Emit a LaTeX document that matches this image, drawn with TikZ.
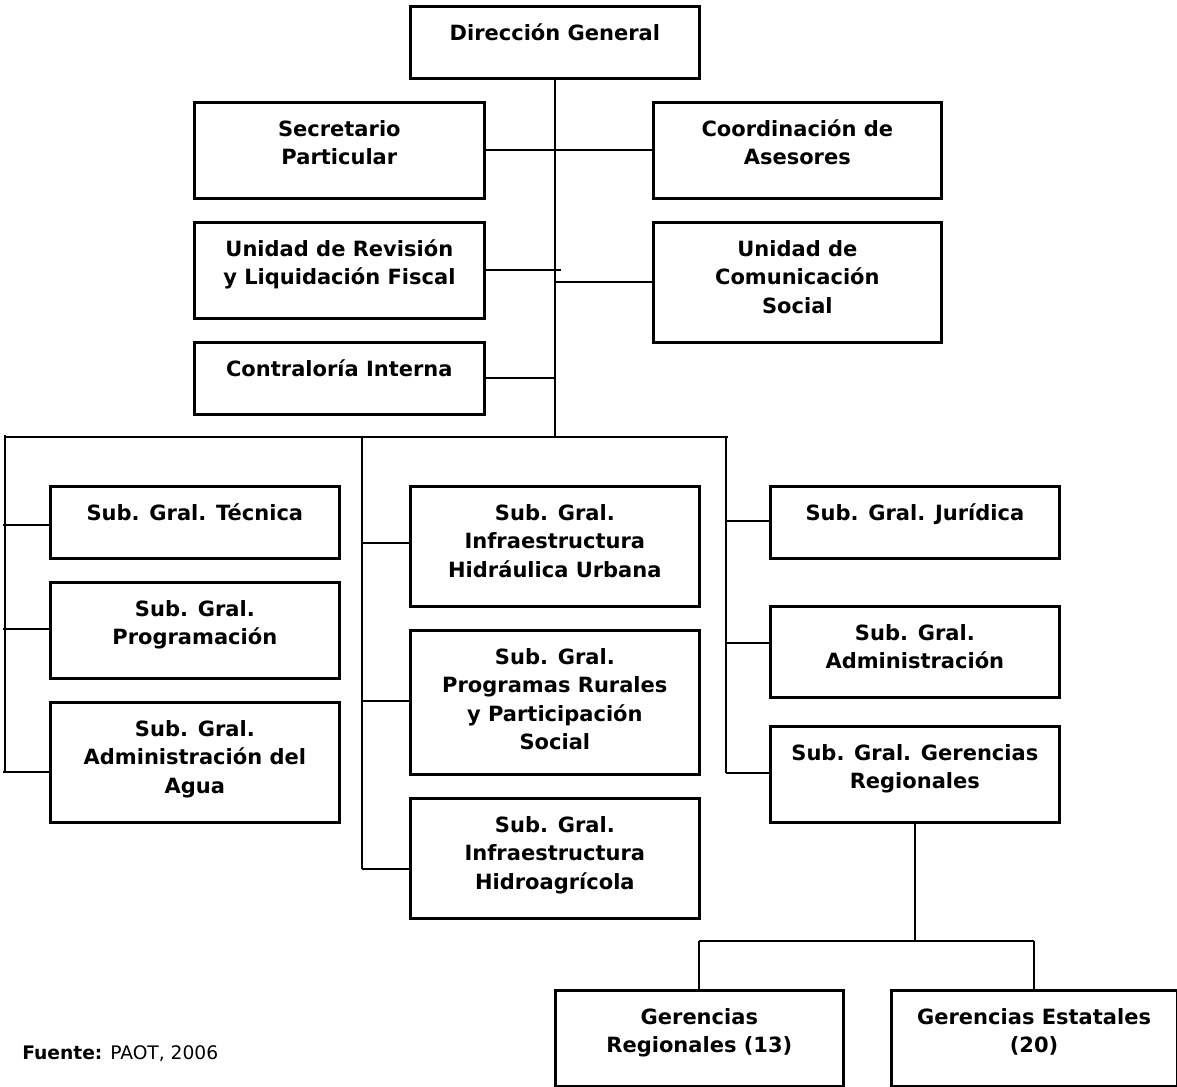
\documentclass[tikz,border=0pt]{standalone}
\usepackage{fontspec}
\setmainfont{DejaVu Sans}
% box drawn from its pixel corners (left, top, right, bottom), text hung from the top edge
\newcommand\orgbox[6]{%
  \node[obox, minimum width={(#4-#2)*0.75pt}, minimum height={(#5-#3)*0.75pt}] (#1) at (#2,#3) {};
  \node[otext] (#1-t) at (#1.north) {\rule{0pt}{26.25pt}#6};}
\begin{document}
\begin{tikzpicture}[x=0.75pt,y=-0.75pt,
  obox/.style={draw, line width=2pt, inner sep=0pt, anchor=north west},
  otext/.style={anchor=north, inner sep=0pt, align=center,
    font=\fontsize{15.75}{21.4}\selectfont\bfseries},
  link/.style={line width=1.5pt}]
\useasboundingbox (0,0) rectangle (1177,1086);

% top level and staff units
\orgbox{dir}{409}{5}{698}{77}{Dirección General}
\orgbox{sec}{193}{101}{483}{197}{Secretario\\Particular}
\orgbox{coo}{652}{101}{940}{197}{Coordinación de\\Asesores}
\orgbox{rev}{193}{221}{483}{317}{Unidad de Revisión\\y Liquidación Fiscal}
\orgbox{com}{652}{221}{940}{341}{Unidad de\\Comunicación\\Social}
\orgbox{con}{193}{341}{483}{413}{Contraloría Interna}

% left column
\orgbox{tec}{49}{485}{338}{557}{Sub. Gral. Técnica}
\orgbox{pro}{49}{581}{338}{677}{Sub. Gral.\\Programación}
\orgbox{agu}{49}{701}{338}{821}{Sub. Gral.\\Administración del\\Agua}

% middle column
\orgbox{urb}{409}{485}{698}{605}{Sub. Gral.\\Infraestructura\\Hidráulica Urbana}
\orgbox{rur}{409}{629}{698}{773}{Sub. Gral.\\Programas Rurales\\y Participación\\Social}
\orgbox{hid}{409}{797}{698}{917}{Sub. Gral.\\Infraestructura\\Hidroagrícola}

% right column
\orgbox{jur}{769}{485}{1058}{557}{Sub. Gral. Jurídica}
\orgbox{adm}{769}{605}{1058}{696}{Sub. Gral.\\Administración}
\orgbox{ger}{769}{725}{1058}{821}{Sub. Gral. Gerencias\\Regionales}

% regional level
\orgbox{gre}{554}{989}{842}{1084.5}{Gerencias\\Regionales (13)}
\orgbox{ges}{890}{989}{1175.5}{1084.5}{Gerencias Estatales\\(20)}

% bus coordinates
\coordinate (busL) at (5,437);
\coordinate (busR) at (728,437);
\coordinate (lv) at (5,772);
\coordinate (l1) at (3,525);
\coordinate (l2) at (3,629);
\coordinate (l3) at (3,772);
\coordinate (mtop) at (362,437);
\coordinate (m1) at (362,543);
\coordinate (m2) at (362,701);
\coordinate (m3) at (362,869);
\coordinate (rtop) at (726,437);
\coordinate (r1) at (726,521);
\coordinate (r2) at (726,643);
\coordinate (r3) at (726,773);
\coordinate (gy) at (0,941);

% main trunk and staff links
\draw[link] (dir.south) -- (dir.south |- busL);
\draw[link] (sec.east) -- (coo.west);
\draw[link] (rev.east) -- ++(75,0);
\draw[link] (com.west) -- (com.west -| dir.south);
\draw[link] (con.east) -- (con.east -| dir.south);

% horizontal bus and column drops
\draw[link] (busL) -- (busR);
\draw[link] ([yshift=1.5]busL) -- (lv);
\draw[link] (l1) -- (l1 -| tec.west);
\draw[link] (l2) -- (l2 -| pro.west);
\draw[link] (l3) -- (l3 -| agu.west);
\draw[link] (mtop) -- (m3);
\draw[link] (m1) -- (m1 -| urb.west);
\draw[link] (m2) -- (m2 -| rur.west);
\draw[link] (m3) -- (m3 -| hid.west);
\draw[link] (rtop) -- (r3);
\draw[link] (r1) -- (r1 -| jur.west);
\draw[link] (r2) -- (r2 -| adm.west);
\draw[link] (r3) -- (r3 -| ger.west);

% regional branch
\draw[link] (ger.south) -- (ger.south |- gy);
\draw[link] (gre.north |- gy) -- (ges.north |- gy);
\draw[link] (gre.north) -- (gre.north |- gy);
\draw[link] (ges.north) -- (ges.north |- gy);

% source note
\node[anchor=base west, inner sep=0pt, font=\fontsize{14}{16}\selectfont] (src) at (22,1059)
  {\textbf{Fuente:} PAOT, 2006};
\end{tikzpicture}
\end{document}
